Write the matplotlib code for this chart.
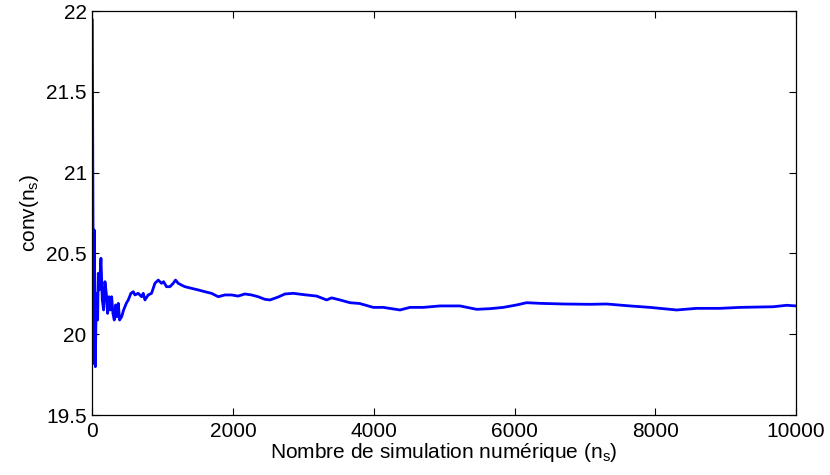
import matplotlib
matplotlib.use("Agg")
import matplotlib.pyplot as plt
import numpy as np

plt.rcParams['font.family'] = ['Liberation Sans', 'DejaVu Sans']
plt.rcParams['mathtext.default'] = 'regular'

n_s = [0, 9, 19, 28, 43, 57, 76, 85, 99, 123, 142, 161, 180, 199, 218, 237,
       256, 275, 293, 312, 331, 350, 369, 388, 417, 445, 483, 511, 549, 582,
       606, 653, 700, 724, 748, 795, 842, 890, 937, 984, 1013, 1055, 1103,
       1150, 1183, 1221, 1268, 1316, 1410, 1505, 1600, 1694, 1789, 1884,
       1978, 2073, 2168, 2262, 2357, 2452, 2525, 2641, 2738, 2857, 3000,
       3189, 3331, 3400, 3520, 3662, 3800, 3993, 4135, 4373, 4515, 4704,
       4941, 5225, 5462, 5650, 5841, 6030, 6172, 6362, 6693, 7072, 7309,
       7640, 7925, 8304, 8588, 8920, 9204, 9678, 9868, 10000]
conv = [21.944, 20.851, 19.820, 20.645, 19.799, 20.253, 20.088, 20.377,
        20.274, 20.470, 20.212, 20.150, 20.325, 20.253, 20.129, 20.232,
        20.150, 20.232, 20.129, 20.088, 20.181, 20.108, 20.191, 20.088,
        20.108, 20.150, 20.191, 20.212, 20.253, 20.263, 20.243, 20.253,
        20.232, 20.253, 20.212, 20.243, 20.253, 20.315, 20.335, 20.315,
        20.325, 20.294, 20.294, 20.315, 20.335, 20.315, 20.304, 20.294,
        20.284, 20.274, 20.263, 20.253, 20.232, 20.243, 20.243, 20.236,
        20.249, 20.243, 20.232, 20.216, 20.212, 20.230, 20.249, 20.253,
        20.245, 20.236, 20.212, 20.225, 20.212, 20.195, 20.190, 20.166,
        20.166, 20.150, 20.166, 20.166, 20.175, 20.175, 20.154, 20.158,
        20.166, 20.181, 20.195, 20.191, 20.187, 20.185, 20.187, 20.175,
        20.166, 20.150, 20.160, 20.160, 20.166, 20.170, 20.179, 20.175]

xticks = [0, 2000, 4000, 6000, 8000, 10000]
yticks = [19.5, 20, 20.5, 21, 21.5, 22]
ytick_labels = ['19.5', '20', '20.5', '21', '21.5', '22']

fig = plt.figure(figsize=(8.3, 4.75), dpi=100)
ax = fig.add_axes([0.1112, 0.1263, 0.8478, 0.8505])
ax.plot(n_s, conv, color='#0000ff', linewidth=2.0)

ax.set_xlim(0, 10000)
ax.set_ylim(19.5, 22)
ax.set_xticks(xticks)
ax.set_xticklabels([str(t) for t in xticks])
ax.set_yticks(yticks)
ax.set_yticklabels(ytick_labels)
ax.tick_params(direction='in', length=5, width=0.8, top=True, right=True,
               labelsize=15, pad=4)
ax.tick_params(axis='x', pad=5)
for s in ax.spines.values():
    s.set_linewidth(0.9)

ax.set_xlabel('Nombre de simulation numérique (n$_s$)', fontsize=15, labelpad=0)
ax.set_ylabel('conv(n$_s$)', fontsize=15, labelpad=4)

fig.savefig('out.png', dpi=100)
